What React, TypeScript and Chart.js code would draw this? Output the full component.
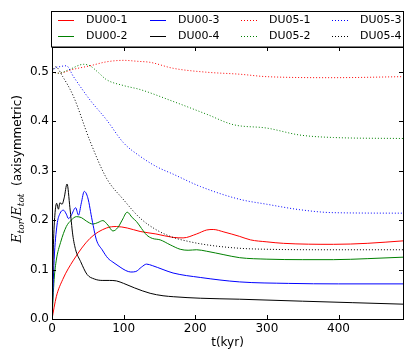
import React, { useEffect, useRef } from "react";
import { Chart, registerables } from "chart.js";

Chart.register(...registerables);

// ---- data ----
const t_du00_1 = [0, 6, 15, 30, 53, 76, 90, 105, 123, 145, 169, 183, 202, 216, 225, 240, 262, 277, 300, 323, 393, 440, 490];
const e_du00_1 = [0, 0.045, 0.08, 0.119, 0.163, 0.184, 0.187, 0.184, 0.177, 0.172, 0.165, 0.164, 0.172, 0.18, 0.181, 0.176, 0.167, 0.16, 0.156, 0.153, 0.151, 0.153, 0.158];

const t_du00_2 = [0, 3, 6, 12, 20, 27, 34, 41, 48, 57, 64, 71, 78, 85, 92, 98, 105, 112, 118, 125, 132, 140, 151, 165, 179, 190, 202, 216, 240, 262, 300, 350, 393, 440, 490];
const e_du00_2 = [0, 0.08, 0.119, 0.155, 0.187, 0.2, 0.207, 0.205, 0.198, 0.192, 0.195, 0.199, 0.19, 0.178, 0.185, 0.2, 0.216, 0.205, 0.197, 0.183, 0.17, 0.163, 0.16, 0.15, 0.141, 0.139, 0.14, 0.137, 0.13, 0.124, 0.121, 0.12, 0.12, 0.122, 0.125];

const t_du00_3 = [0, 3, 7, 11, 16, 20, 23, 27, 33, 37, 41, 45, 50, 56, 62, 70, 78, 85, 95, 103, 110, 117, 125, 132, 140, 155, 169, 207, 262, 330, 400, 490];
const e_du00_3 = [0, 0.12, 0.19, 0.213, 0.22, 0.212, 0.203, 0.21, 0.225, 0.21, 0.235, 0.258, 0.245, 0.2, 0.16, 0.14, 0.123, 0.115, 0.105, 0.098, 0.095, 0.096, 0.105, 0.111, 0.108, 0.1, 0.093, 0.084, 0.075, 0.072, 0.071, 0.071];

const t_du00_4 = [0, 2, 4, 6.5, 9, 11, 14, 17, 21, 25, 29, 33, 40, 49, 59, 70, 80, 90, 100, 115, 137, 155, 170, 207, 262, 350, 420, 490];
const e_du00_4 = [0, 0.15, 0.21, 0.234, 0.222, 0.235, 0.232, 0.245, 0.273, 0.225, 0.17, 0.14, 0.116, 0.09, 0.081, 0.078, 0.078, 0.077, 0.072, 0.063, 0.052, 0.047, 0.045, 0.042, 0.04, 0.036, 0.033, 0.03];

const t_du05_1 = [0, 9, 30, 53, 76, 100, 120, 137, 169, 216, 262, 300, 393, 490];
const e_du05_1 = [0.5, 0.497, 0.505, 0.512, 0.52, 0.523, 0.521, 0.519, 0.507, 0.499, 0.495, 0.49, 0.488, 0.49];

const t_du05_2 = [0, 9, 25, 44, 53, 65, 76, 100, 123, 169, 216, 253, 300, 346, 393, 490];
const e_du05_2 = [0.5, 0.497, 0.505, 0.515, 0.512, 0.498, 0.484, 0.472, 0.464, 0.44, 0.414, 0.393, 0.386, 0.372, 0.367, 0.365];

const t_du05_3 = [0, 5, 10, 20, 30, 53, 76, 100, 123, 146, 169, 207, 262, 300, 346, 393, 490];
const e_du05_3 = [0.5, 0.508, 0.51, 0.512, 0.49, 0.443, 0.403, 0.356, 0.329, 0.308, 0.293, 0.268, 0.242, 0.232, 0.221, 0.215, 0.214];

const t_du05_4 = [0, 5, 15, 30, 53, 76, 100, 123, 146, 169, 190, 216, 262, 300, 400, 490];
const e_du05_4 = [0.5, 0.51, 0.49, 0.45, 0.36, 0.285, 0.241, 0.204, 0.18, 0.165, 0.157, 0.15, 0.143, 0.141, 0.14, 0.14];

const seriesNames = ["DU00-1", "DU00-2", "DU00-3", "DU00-4", "DU05-1", "DU05-2", "DU05-3", "DU05-4"];
const seriesT = [t_du00_1, t_du00_2, t_du00_3, t_du00_4, t_du05_1, t_du05_2, t_du05_3, t_du05_4];
const seriesE = [e_du00_1, e_du00_2, e_du00_3, e_du00_4, e_du05_1, e_du05_2, e_du05_3, e_du05_4];
const seriesColors = ["#ff0000", "#008000", "#0000ff", "#000000", "#ff0000", "#008000", "#0000ff", "#000000"];
const seriesDotted = [false, false, false, false, true, true, true, true];

const xTicks = [0, 100, 200, 300, 400];
const yTicks = [0, 0.1, 0.2, 0.3, 0.4, 0.5];
const xMax = 490;
const yMax = 0.55;
const xTitle = "t(kyr)";
const legendOrder = [0, 2, 4, 6, 1, 3, 5, 7]; // row 1 then row 2, 4 columns

const SANS = "'DejaVu Sans', sans-serif";

const decorPlugin = {
  id: "decor",
  afterDraw(chart: any) {
    const ctx = chart.ctx;
    const a = chart.chartArea;
    const xs = chart.scales.x;
    const ys = chart.scales.y;
    ctx.save();
    // inner ticks
    ctx.strokeStyle = "#000";
    ctx.lineWidth = 1;
    const tl = 4;
    ctx.beginPath();
    for (const v of xTicks) {
      const px = Math.round(xs.getPixelForValue(v)) + 0.5;
      ctx.moveTo(px, a.bottom);
      ctx.lineTo(px, a.bottom - tl);
      ctx.moveTo(px, a.top);
      ctx.lineTo(px, a.top + tl);
    }
    for (const v of yTicks) {
      const py = Math.round(ys.getPixelForValue(v)) + 0.5;
      ctx.moveTo(a.left, py);
      ctx.lineTo(a.left + tl, py);
      ctx.moveTo(a.right, py);
      ctx.lineTo(a.right - tl, py);
    }
    ctx.stroke();
    // frame
    ctx.strokeRect(Math.round(a.left) + 0.5, Math.round(a.top) + 0.5, Math.round(a.right - a.left), Math.round(a.bottom - a.top));

    // legend box
    const lx = 51.5, ly = 11.5, lw = 352, lh = 35.5;
    ctx.fillStyle = "#fff";
    ctx.fillRect(lx, ly, lw, lh);
    ctx.strokeRect(lx, ly, lw, lh);
    const colX = [58, 150, 241, 332];
    const rowY = [20, 36];
    ctx.font = `11px ${SANS}`;
    ctx.textBaseline = "middle";
    ctx.textAlign = "left";
    legendOrder.forEach((si, k) => {
      const c = k % 4;
      const r = Math.floor(k / 4);
      const x0 = colX[c];
      const y0 = rowY[r];
      ctx.strokeStyle = seriesColors[si];
      ctx.lineWidth = 1;
      ctx.setLineDash(seriesDotted[si] ? [1, 2] : []);
      ctx.beginPath();
      ctx.moveTo(x0, y0 + 0.5);
      ctx.lineTo(x0 + 16, y0 + 0.5);
      ctx.stroke();
      ctx.setLineDash([]);
      ctx.fillStyle = "#000";
      ctx.fillText(seriesNames[si], x0 + 28, y0);
    });

    // x title
    ctx.fillStyle = "#000";
    ctx.font = `12px ${SANS}`;
    ctx.textAlign = "center";
    ctx.textBaseline = "middle";
    ctx.fillText(xTitle, (a.left + a.right) / 2, 343);

    // y title (rotated, mixed fonts)
    ctx.translate(17, 169);
    ctx.rotate(-Math.PI / 2);
    ctx.textAlign = "left";
    ctx.textBaseline = "alphabetic";
    const parts: [string, string, number][] = [
      ["E", "italic 13px 'DejaVu Serif', serif", 0],
      ["tor", "italic 9px 'DejaVu Serif', serif", 3],
      ["/", "13px 'DejaVu Serif', serif", 0],
      ["E", "italic 13px 'DejaVu Serif', serif", 0],
      ["tot", "italic 9px 'DejaVu Serif', serif", 3],
      ["  (axisymmetric)", `12px ${SANS}`, 0],
    ];
    let total = 0;
    for (const [s, f] of parts) {
      ctx.font = f;
      total += ctx.measureText(s).width;
    }
    let cx = -total / 2;
    for (const [s, f, dy] of parts) {
      ctx.font = f;
      ctx.fillText(s, cx, 4 + dy);
      cx += ctx.measureText(s).width;
    }
    ctx.restore();
  },
};

export default function App() {
  const ref = useRef<HTMLCanvasElement | null>(null);
  useEffect(() => {
    if (!ref.current) return;
    const datasets = seriesNames.map((name, i) => ({
      label: name,
      data: seriesT[i].map((t, j) => ({ x: t, y: seriesE[i][j] })),
      borderColor: seriesColors[i],
      backgroundColor: seriesColors[i],
      borderWidth: 1,
      borderDash: seriesDotted[i] ? [1, 2] : [],
      pointRadius: 0,
      fill: false,
      cubicInterpolationMode: "monotone" as const,
      order: -i,
    }));
    const chart = new Chart(ref.current, {
      type: "line",
      data: { datasets },
      options: {
        animation: false,
        responsive: false,
        devicePixelRatio: 1,
        parsing: false as any,
        layout: { padding: { top: 47, right: 12, left: 0, bottom: 0 } },
        plugins: { legend: { display: false }, tooltip: { enabled: false }, title: { display: false } },
        scales: {
          x: {
            type: "linear",
            min: 0,
            max: xMax,
            border: { display: false },
            grid: { display: false, drawTicks: false },
            ticks: {
              autoSkip: false,
              maxRotation: 0,
              padding: 3,
              color: "#000",
              font: { family: SANS, size: 12 },
              callback: (v: any) => String(v),
            },
            afterBuildTicks: (s: any) => { s.ticks = xTicks.map((v) => ({ value: v })); },
            afterFit: (s: any) => { s.height = 44; },
          },
          y: {
            type: "linear",
            min: 0,
            max: yMax,
            border: { display: false },
            grid: { display: false, drawTicks: false },
            ticks: {
              autoSkip: false,
              padding: 3,
              color: "#000",
              font: { family: SANS, size: 12 },
              callback: (v: any) => Number(v).toFixed(1),
            },
            afterBuildTicks: (s: any) => { s.ticks = yTicks.map((v) => ({ value: v })); },
            afterFit: (s: any) => { s.width = 52; },
          },
        },
      },
      plugins: [decorPlugin],
    });
    return () => chart.destroy();
  }, []);
  return (
    <div style={{ position: "fixed", left: 0, top: 0, width: 415, height: 363, background: "#fff" }}>
      <canvas ref={ref} width={415} height={363} style={{ width: 415, height: 363 }} />
    </div>
  );
}
